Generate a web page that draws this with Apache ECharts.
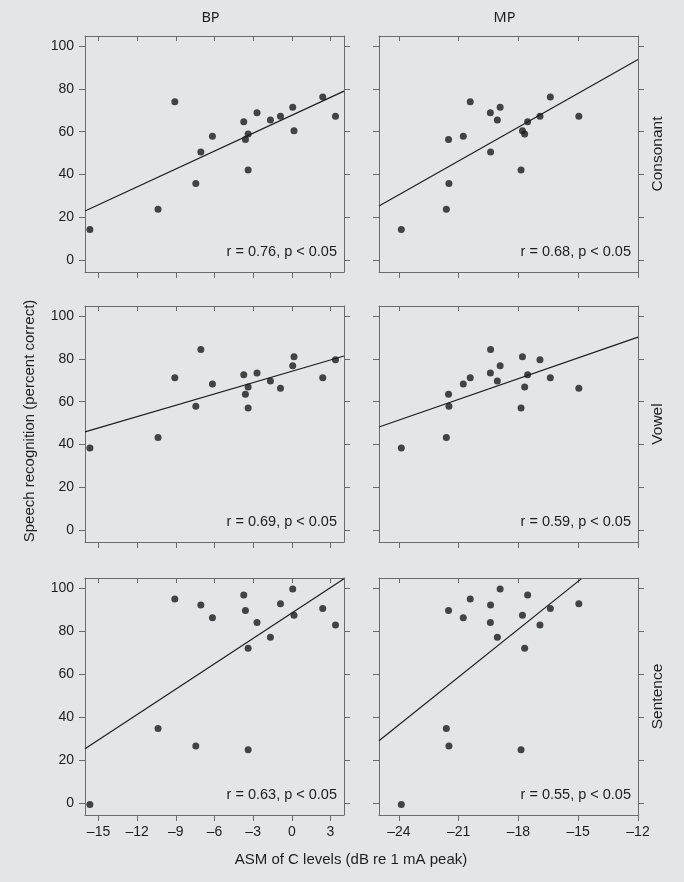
<!DOCTYPE html>
<html>
<head>
<meta charset="utf-8">
<script src="https://cdn.jsdelivr.net/npm/echarts@6/dist/echarts.min.js"></script>
<style>
html,body{margin:0;padding:0;background:#e4e5e7;}
#c{width:684px;height:882px;}
</style>
</head>
<body>
<div id="c"></div>
<script>
// ---- data (per subject, same order in every array) ----
const bpLevels = [-15.67, -10.38, -9.08, -7.45, -7.06, -6.16, -3.73, -3.60, -3.39, -3.39, -2.70, -1.66, -0.88, 0.07, 0.17, 2.40, 3.39];
const mpLevels = [-23.88, -21.62, -20.42, -21.49, -19.40, -20.77, -17.54, -21.51, -17.69, -17.87, -19.41, -19.06, -14.97, -18.92, -17.80, -16.40, -16.92];
const consonant = [14.4, 23.8, 73.9, 35.9, 50.5, 57.9, 64.6, 56.4, 58.9, 42.1, 68.8, 65.4, 67.2, 71.4, 60.4, 76.2, 67.2];
const vowel = [38.4, 43.3, 71.1, 57.9, 84.3, 68.3, 72.5, 63.5, 66.9, 57.1, 73.4, 69.7, 66.3, 76.7, 80.9, 71.1, 79.5];
const sentence = [-0.5, 34.8, 94.9, 26.6, 92.1, 86.1, 96.7, 89.5, 72.0, 24.9, 83.9, 77.1, 92.7, 99.5, 87.3, 90.5, 82.8];

// regression line end points
const fitConsBP = [[-16.05, 23.0], [4.05, 78.9]];
const fitConsMP = [[-25, 25.4], [-12, 93.6]];
const fitVowBP = [[-16.05, 45.9], [4.05, 81.3]];
const fitVowMP = [[-25, 48.2], [-12, 90.1]];
const fitSentBP = [[-16.05, 25.3], [4.05, 104.3]];
const fitSentMP = [[-25, 29.1], [-14.85, 104.2]];

const statLabels = ['r = 0.76, p < 0.05', 'r = 0.68, p < 0.05', 'r = 0.69, p < 0.05', 'r = 0.59, p < 0.05', 'r = 0.63, p < 0.05', 'r = 0.55, p < 0.05'];
const columnTitles = ['BP', 'MP'];
const rowTitles = ['Consonant', 'Vowel', 'Sentence'];
const bpTicks = [-15, -12, -9, -6, -3, 0, 3];
const mpTicks = [-24, -21, -18, -15, -12];
const yTicks = [0, 20, 40, 60, 80, 100];
const xTitle = 'ASM of C levels (dB re 1 mA peak)';
const yTitle = 'Speech recognition (percent correct)';

// ---- layout ----
const colLeft = [85, 379];
const colWidth = 259;
const rowTop = [36, 306, 578];
const rowHeight = [236, 236, 237];
const xRange = [[-16.05, 4.05], [-25, -12]];
const yRange = [-5.4, 104.6];
const FONT = '"Liberation Sans", Arial, sans-serif';
const frameColor = '#6b6b6b';
const textColor = '#1e1e1e';

const rows = [consonant, vowel, sentence];
const fits = [[fitConsBP, fitConsMP], [fitVowBP, fitVowMP], [fitSentBP, fitSentMP]];
const levels = [bpLevels, mpLevels];
const ticks = [bpTicks, mpTicks];

const grid = [], xAxis = [], yAxis = [], series = [], graphic = [];
const fmt = v => String(v).replace('-', '\u2013');

for (let r = 0; r < 3; r++) {
  for (let c = 0; c < 2; c++) {
    const g = grid.length;
    grid.push({left: colLeft[c], top: rowTop[r], width: colWidth, height: rowHeight[r], containLabel: false});
    const lineStyle = {color: frameColor, width: 1};
    // bottom x
    xAxis.push({
      type: 'value', gridIndex: g, position: 'bottom', min: xRange[c][0], max: xRange[c][1],
      axisLine: {show: true, onZero: false, lineStyle},
      axisTick: {show: true, inside: false, length: 6, lineStyle, customValues: ticks[c]},
      axisLabel: {show: r === 2, customValues: ticks[c], formatter: fmt, margin: 10,
        fontFamily: FONT, fontSize: 14, color: textColor},
      splitLine: {show: false}
    });
    // top x (inward ticks)
    xAxis.push({
      type: 'value', gridIndex: g, position: 'top', min: xRange[c][0], max: xRange[c][1],
      axisLine: {show: true, onZero: false, lineStyle},
      axisTick: {show: true, inside: true, length: 5, lineStyle, customValues: ticks[c]},
      axisLabel: {show: false},
      splitLine: {show: false}
    });
    // left y
    yAxis.push({
      type: 'value', gridIndex: g, position: 'left', min: yRange[0], max: yRange[1],
      axisLine: {show: true, onZero: false, lineStyle},
      axisTick: {show: true, inside: false, length: 6, lineStyle, customValues: yTicks},
      axisLabel: {show: c === 0, customValues: yTicks, margin: 11,
        fontFamily: FONT, fontSize: 14, color: textColor},
      splitLine: {show: false}
    });
    // right y
    yAxis.push({
      type: 'value', gridIndex: g, position: 'right', min: yRange[0], max: yRange[1],
      axisLine: {show: true, onZero: false, lineStyle},
      axisTick: {show: true, inside: false, length: 6, lineStyle, customValues: yTicks},
      axisLabel: {show: false},
      splitLine: {show: false}
    });
    const xi = g * 2, yi = g * 2;
    series.push({
      type: 'line', xAxisIndex: xi, yAxisIndex: yi, data: fits[r][c],
      symbol: 'none', silent: true, clip: true,
      lineStyle: {color: '#1e1e1e', width: 1.2}, z: 2
    });
    series.push({
      type: 'scatter', xAxisIndex: xi, yAxisIndex: yi,
      data: levels[c].map((x, i) => [x, rows[r][i]]),
      symbolSize: 7, itemStyle: {color: '#1a1a1a'}, silent: true, z: 3
    });
    graphic.push({
      type: 'text', right: 684 - (colLeft[c] + colWidth) + 7, top: rowTop[r] + rowHeight[r] - 28,
      style: {text: statLabels[g], fontFamily: FONT, fontSize: 14.5, fill: textColor}
    });
  }
}

columnTitles.forEach((t, c) => {
  graphic.push({
    type: 'text', x: colLeft[c] + colWidth / 2 - 4, y: 18,
    style: {text: t, fontFamily: '"Noto Sans", "Open Sans", sans-serif', fontSize: 14.5, fill: textColor,
      textAlign: 'center', textVerticalAlign: 'middle'}
  });
});
rowTitles.forEach((t, r) => {
  graphic.push({
    type: 'text', x: 658, y: rowTop[r] + rowHeight[r] / 2, rotation: Math.PI / 2,
    style: {text: t, fontFamily: FONT, fontSize: 15.5, fill: textColor,
      textAlign: 'center', textVerticalAlign: 'middle'}
  });
});
graphic.push({
  type: 'text', x: 30, y: 421, rotation: Math.PI / 2,
  style: {text: yTitle, fontFamily: FONT, fontSize: 15, fill: textColor,
    textAlign: 'center', textVerticalAlign: 'middle'}
});
graphic.push({
  type: 'text', x: 351, y: 860,
  style: {text: xTitle, fontFamily: FONT, fontSize: 15, fill: textColor,
    textAlign: 'center', textVerticalAlign: 'middle'}
});

const chart = echarts.init(document.getElementById('c'), null, {renderer: 'canvas'});
chart.setOption({
  backgroundColor: '#e4e5e7',
  animation: false,
  grid, xAxis, yAxis, series, graphic
});
</script>
</body>
</html>
